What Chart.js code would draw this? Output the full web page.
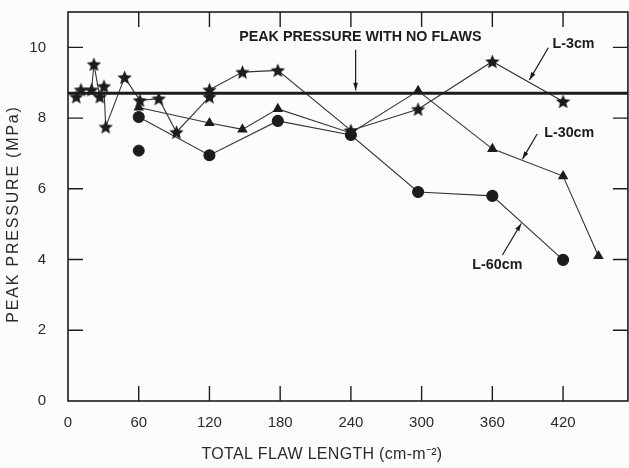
<!DOCTYPE html>
<html lang="en">
<head>
<meta charset="UTF-8">
<title>Peak pressure vs total flaw length</title>
<script src="https://cdn.jsdelivr.net/npm/chart.js"></script>
<style>
  html, body { margin: 0; background: #fcfcfa; overflow: hidden; width: 629px; height: 468px; }
  #wrap { width: 700px; height: 468px; }
  canvas { display: block; }
</style>
</head>
<body>
<div id="wrap"><canvas id="chart" width="629" height="468"></canvas></div>
<script>
// L-3cm (stars)
const starX = [7, 11, 20, 22, 27, 30.5, 32, 48, 61, 77, 92, 120, 120, 148, 178, 240, 297, 360, 420];
const starY = [8.6, 8.8, 8.8, 9.52, 8.6, 8.9, 7.75, 9.15, 8.5, 8.55, 7.6, 8.6, 8.8, 9.3, 9.35, 7.65, 8.25, 9.6, 8.47];
// L-30cm (triangles)
const triX = [60, 120, 148, 178, 240, 297, 360, 420, 450];
const triY = [8.3, 7.86, 7.68, 8.26, 7.58, 8.77, 7.13, 6.36, 4.1];
// L-60cm (circles)
const circX = [60, 120, 178, 240, 297, 360, 420];
const circY = [8.03, 6.95, 7.92, 7.52, 5.91, 5.8, 3.99];
const loneCircX = [60];
const loneCircY = [7.08];
// peak pressure with no flaws
const noFlawY = 8.7;

const xTicks = [0, 60, 120, 180, 240, 300, 360, 420];
const yTicks = [0, 2, 4, 6, 8, 10];

const xTitle = 'TOTAL FLAW LENGTH (cm-m\u207B\u00B2)';
const yTitle = 'PEAK PRESSURE (MPa)';

const ink = '#1c1c1c';
const family = '"Liberation Sans", Arial, sans-serif';

function pts(xs, ys) { return xs.map((x, i) => ({ x: x, y: ys[i] })); }

// filled five point star for the L-3cm markers
function makeStar(size) {
  const c = document.createElement('canvas');
  c.width = size; c.height = size;
  const g = c.getContext('2d');
  const r = size / 2, ri = r * 0.45;
  g.beginPath();
  for (let i = 0; i < 10; i++) {
    const rad = i % 2 === 0 ? r : ri;
    const a = -Math.PI / 2 + i * Math.PI / 5;
    const px = r + rad * Math.cos(a), py = r + 0.6 + rad * Math.sin(a);
    if (i === 0) g.moveTo(px, py); else g.lineTo(px, py);
  }
  g.closePath();
  g.fillStyle = ink;
  g.fill();
  return c;
}

// labels and arrows, in data units
const notes = [
  { text: 'PEAK PRESSURE WITH NO FLAWS', x: 248, y: 10.3, align: 'center' },
  { text: 'L-3cm', x: 411, y: 10.1, align: 'left' },
  { text: 'L-30cm', x: 404, y: 7.58, align: 'left' },
  { text: 'L-60cm', x: 343, y: 3.85, align: 'left' }
];
const arrows = [
  { x1: 244, y1: 9.93, x2: 244, y2: 8.78 },
  { x1: 407.5, y1: 9.99, x2: 391.5, y2: 9.08 },
  { x1: 398, y1: 7.55, x2: 385.5, y2: 6.84 },
  { x1: 368.5, y1: 4.13, x2: 384.5, y2: 5.02 }
];

const framePlugin = {
  id: 'frame',
  afterDatasetsDraw(chart) {
    const { ctx, chartArea: a, scales: { x, y } } = chart;
    ctx.save();
    ctx.strokeStyle = ink;
    ctx.lineWidth = 1.6;
    ctx.strokeRect(a.left, a.top, a.right - a.left, a.bottom - a.top);
    ctx.lineWidth = 1.4;
    const len = 15;
    ctx.beginPath();
    xTicks.forEach(v => {
      if (v === 0) return;
      const px = x.getPixelForValue(v);
      ctx.moveTo(px, a.bottom); ctx.lineTo(px, a.bottom - len);
      ctx.moveTo(px, a.top); ctx.lineTo(px, a.top + len);
    });
    yTicks.forEach(v => {
      if (v === 0) return;
      const py = y.getPixelForValue(v);
      ctx.moveTo(a.left, py); ctx.lineTo(a.left + len, py);
      ctx.moveTo(a.right, py); ctx.lineTo(a.right - len, py);
    });
    ctx.stroke();

    // notes
    ctx.fillStyle = ink;
    ctx.font = 'bold 14.3px ' + family;
    ctx.textBaseline = 'middle';
    notes.forEach(n => {
      ctx.textAlign = n.align;
      ctx.fillText(n.text, x.getPixelForValue(n.x), y.getPixelForValue(n.y));
    });
    ctx.lineWidth = 1.2;
    arrows.forEach(ar => {
      const x1 = x.getPixelForValue(ar.x1), y1 = y.getPixelForValue(ar.y1);
      const x2 = x.getPixelForValue(ar.x2), y2 = y.getPixelForValue(ar.y2);
      const ang = Math.atan2(y2 - y1, x2 - x1);
      ctx.beginPath();
      ctx.moveTo(x1, y1); ctx.lineTo(x2, y2);
      ctx.stroke();
      ctx.beginPath();
      ctx.moveTo(x2, y2);
      ctx.lineTo(x2 - 8 * Math.cos(ang - 0.3), y2 - 8 * Math.sin(ang - 0.3));
      ctx.lineTo(x2 - 8 * Math.cos(ang + 0.3), y2 - 8 * Math.sin(ang + 0.3));
      ctx.closePath();
      ctx.fill();
    });

    // axis titles, drawn here so the letter spacing can match the scan
    ctx.fillStyle = '#2a2a2a';
    ctx.textAlign = 'center';
    ctx.font = '16px ' + family;
    ctx.letterSpacing = '0.3px';
    ctx.fillText(xTitle, 322, 455);
    ctx.translate(14, 214);
    ctx.rotate(-Math.PI / 2);
    ctx.letterSpacing = '1.8px';
    ctx.fillText(yTitle, 0, 0);
    ctx.restore();
  }
};

const font = { family: family, size: 15 };

const chart = new Chart(document.getElementById('chart'), {
  type: 'line',
  data: {
    datasets: [
      {
        label: 'No flaws',
        data: pts([0, 480], [noFlawY, noFlawY]),
        borderColor: ink, borderWidth: 3, pointRadius: 0
      },
      {
        label: 'L-3cm',
        data: pts(starX, starY),
        borderColor: '#333', borderWidth: 1.1,
        pointStyle: makeStar(15), pointRadius: 7
      },
      {
        label: 'L-30cm',
        data: pts(triX, triY),
        borderColor: '#333', borderWidth: 1.1,
        pointStyle: 'triangle', pointRadius: 5,
        pointBackgroundColor: ink, pointBorderColor: ink
      },
      {
        label: 'L-60cm',
        data: pts(circX, circY),
        borderColor: '#333', borderWidth: 1.1,
        pointStyle: 'circle', pointRadius: 5.5,
        pointBackgroundColor: ink, pointBorderColor: ink
      },
      {
        label: 'L-60cm extra',
        data: pts(loneCircX, loneCircY),
        showLine: false,
        pointStyle: 'circle', pointRadius: 5.5,
        pointBackgroundColor: ink, pointBorderColor: ink
      }
    ]
  },
  options: {
    responsive: false,
    maintainAspectRatio: false,
    animation: false,
    layout: { padding: { top: 12, right: 0, left: 0, bottom: 0 } },
    plugins: { legend: { display: false }, tooltip: { enabled: false } },
    scales: {
      x: {
        type: 'linear', min: 0, max: 475,
        grid: { display: false, drawTicks: false }, border: { display: false },
        afterBuildTicks: s => { s.ticks = xTicks.map(v => ({ value: v })); },
        afterFit: s => { s.height = 67; s.paddingLeft = 0; s.paddingRight = 0; },
        ticks: { color: '#2a2a2a', font: font, padding: 13, maxRotation: 0 }
      },
      y: {
        min: 0, max: 11,
        grid: { display: false, drawTicks: false }, border: { display: false },
        afterBuildTicks: s => { s.ticks = yTicks.map(v => ({ value: v })); },
        afterFit: s => { s.width = 68; s.paddingTop = 0; s.paddingBottom = 0; },
        ticks: { color: '#2a2a2a', font: font, padding: 22 }
      }
    }
  },
  plugins: [framePlugin]
});

// the layout keeps a few px on the right; widen the canvas past the window to push the frame to 628
for (let i = 0; i < 3; i++) {
  const d = 628 - chart.chartArea.right;
  if (Math.abs(d) < 0.5) break;
  chart.resize(Math.round(chart.width + d), 468);
}
</script>
</body>
</html>
